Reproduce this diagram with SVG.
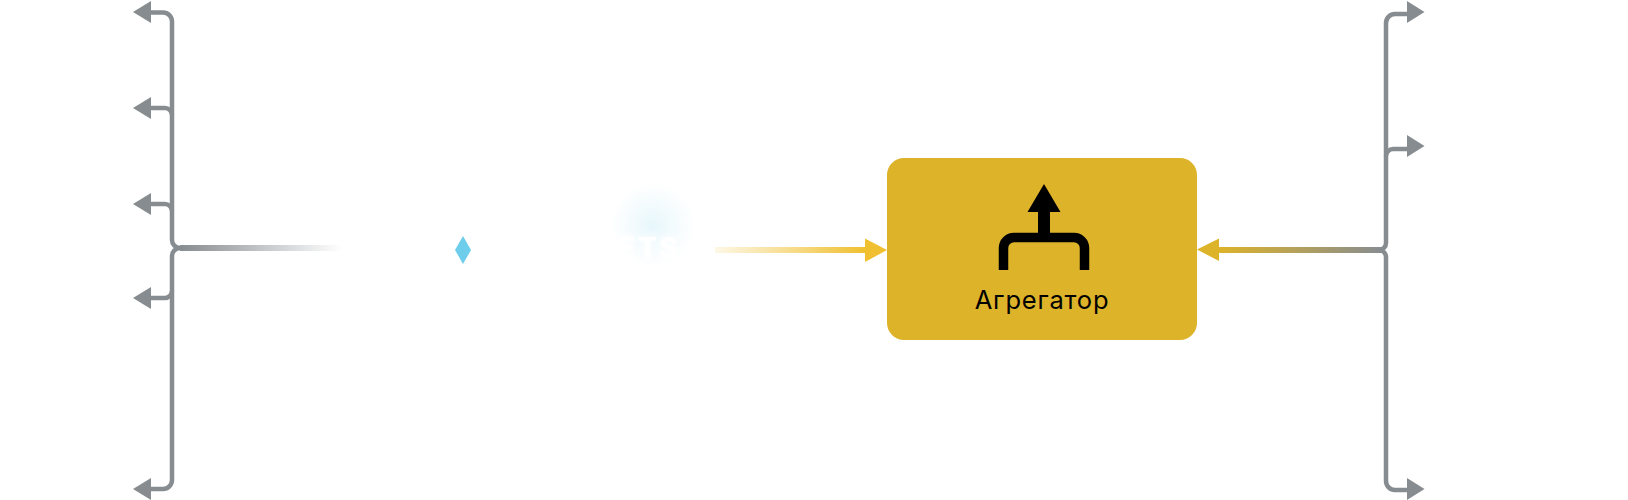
<svg xmlns="http://www.w3.org/2000/svg" width="1628" height="500" viewBox="0 0 1628 500">
<defs>
<linearGradient id="gl" gradientUnits="userSpaceOnUse" x1="180" y1="0" x2="342" y2="0"><stop offset="0" stop-color="#878c90"/><stop offset="1" stop-color="#878c90" stop-opacity="0"/></linearGradient>
<linearGradient id="gy" gradientUnits="userSpaceOnUse" x1="715" y1="0" x2="866" y2="0"><stop offset="0" stop-color="#f0c030" stop-opacity="0.12"/><stop offset="1" stop-color="#f0c030"/></linearGradient>
<linearGradient id="gr" gradientUnits="userSpaceOnUse" x1="1218" y1="0" x2="1382" y2="0"><stop offset="0" stop-color="#ddb32a"/><stop offset="1" stop-color="#878c90"/></linearGradient>
<radialGradient id="glow" gradientUnits="userSpaceOnUse" cx="653" cy="225" r="42"><stop offset="0" stop-color="#6fcdec" stop-opacity="0.17"/><stop offset="0.5" stop-color="#6fcdec" stop-opacity="0.08"/><stop offset="1" stop-color="#6fcdec" stop-opacity="0"/></radialGradient>
<filter id="halo" x="-30%" y="-60%" width="160%" height="220%"><feDropShadow dx="0" dy="0" stdDeviation="3" flood-color="#fff"/></filter>
</defs>
<style>
.g{fill:none;stroke:#878c90;stroke-width:4.500}
.h{fill:#878c90}
.t{font-family:"Inter","Liberation Sans",sans-serif}
</style>
<rect width="1628" height="500" fill="#fff"/>
<g id="connectors">
<path class="g" d="M150 12.500H163A9 9 0 0 1 172 21.500V240A8 8 0 0 0 180 248A8 8 0 0 0 172 256V480A9 9 0 0 1 163 489H150"/>
<path class="g" d="M150 108H165A7 7 0 0 1 172 115"/>
<path class="g" d="M150 204H165A7 7 0 0 1 172 211"/>
<path class="g" d="M172 291A7 7 0 0 1 165 298H150"/>
<rect x="180" y="245" width="162" height="6" fill="url(#gl)"/>
<polygon class="h" points="133,12 151,1 151,23"/>
<polygon class="h" points="133,108 151,97 151,119"/>
<polygon class="h" points="133,204 151,193 151,215"/>
<polygon class="h" points="133,298 151,287 151,309"/>
<polygon class="h" points="133,489 151,478 151,500"/>
<rect x="715" y="247" width="151" height="6" fill="url(#gy)"/>
<polygon points="887,250 865,238.500 865,262" fill="#f0c030"/>
<rect x="1218" y="247" width="164" height="6" fill="url(#gr)"/>
<polygon points="1197,249.500 1219,238.500 1219,261" fill="#ddb32a"/>
<path class="g" d="M1408 14H1395A9 9 0 0 0 1386 23V243A7 7 0 0 1 1379 250A7 7 0 0 1 1386 257V481A9 9 0 0 0 1395 490H1408"/>
<path class="g" d="M1408 149H1393A7 7 0 0 0 1386 156"/>
<polygon class="h" points="1424.500,12 1407,1 1407,23"/>
<polygon class="h" points="1424.500,146 1407,135 1407,157"/>
<polygon class="h" points="1424.500,489 1407,478 1407,500"/>
</g>
<g id="node-diamond"><polygon points="463,236 471,250 463,264 455,250" fill="#6fcdec"/></g>
<g id="node-ts">
<circle cx="653" cy="225" r="42" fill="url(#glow)"/>
<text class="t" x="680" y="258" text-anchor="end" font-size="29" font-weight="700" letter-spacing="2" fill="#fff" filter="url(#halo)">ETS</text>
</g>
<g id="node-aggregator">
<rect x="887" y="158" width="310" height="182" rx="17" fill="#ddb32a"/>
<polygon points="1044,184 1060.500,212 1027.500,212"/>
<rect x="1038" y="210" width="12" height="26"/>
<path d="M1003.500 270V248A10.500 10.500 0 0 1 1014 237.500H1074A10.500 10.500 0 0 1 1084.500 248V270" fill="none" stroke="#000" stroke-width="9.500"/>
<text class="t" x="1042" y="309" text-anchor="middle" font-size="25.500" letter-spacing="0.800" fill="#000">Агрегатор</text>
</g>
</svg>
